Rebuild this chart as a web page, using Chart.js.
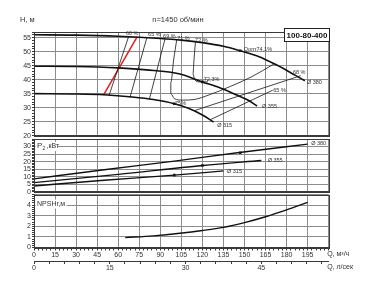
<!DOCTYPE html>
<html><head><meta charset="utf-8">
<script src="https://cdn.jsdelivr.net/npm/chart.js@4/dist/chart.umd.min.js"></script>
<style>
html,body{margin:0;padding:0;background:#fff;width:369px;height:284px;overflow:hidden;position:relative}
canvas{position:absolute;left:0}
</style></head><body>
<canvas id="c1" width="369" height="142" style="top:0px"></canvas>
<canvas id="c2" width="369" height="63" style="top:135px"></canvas>
<canvas id="c3" width="369" height="94" style="top:190px"></canvas>
<script>
// ---------- data ----------
const qH380 = [0, 30, 60, 90, 105, 120, 135, 147, 160, 173, 186, 193];
const h380  = [56, 55.9, 55.5, 54.7, 54.1, 53.2, 51.9, 50.3, 48.3, 45.2, 41.6, 39.6];
const qH355 = [0, 30, 60, 80, 104, 120, 132, 144, 152, 159];
const h355  = [44.8, 44.7, 44.2, 43.5, 42.0, 39.2, 37.2, 34.6, 32.8, 30.6];
const qH315 = [0, 30, 50, 70, 85, 100, 110, 120, 128];
const h315  = [35, 34.9, 34.6, 33.8, 32.9, 31.4, 29.8, 27.4, 24.9];

const qBep = [147, 120, 100];
const hBep = [50.3, 39.2, 31.4];
const pBep = [25.9, 17.4, 11.0];

const effRed = [[73.5, 55.3], [49.5, 34.5]];
const eff60  = [[67.5, 55.5], [53.5, 34.4]];
const eff65  = [[80.5, 55.1], [68.4, 33.7]];
const eff69  = [[93.4, 54.6], [82.2, 33.0]];
const eff71  = [[101.7, 54.2], [99.5, 47], [97.5, 39], [97.5, 35], [100, 33.2], [106, 32.7], [114, 32.9], [125, 34.6], [140, 37.6], [155, 41], [171, 45.6]];
const eff72  = [[115, 53.3], [114, 47], [113.3, 42], [114.5, 40], [118, 39.2], [124, 39.2]];
const eff68  = [[114, 28.9], [190, 41.4]];
const eff65r = [[126, 25.8], [170, 36.2]];

const qP380 = [0, 50, 100, 145, 195];
const p380  = [8.5, 14.6, 20.3, 25.9, 31.6];
const qP355 = [0, 60, 120, 162];
const p355  = [6.0, 11.5, 17.4, 20.7];
const qP315 = [0, 50, 100, 135];
const p315  = [3.8, 7.6, 11.0, 13.8];

const qN = [65, 85, 104, 120, 135, 150, 165, 180, 195];
const npsh = [0.93, 1.1, 1.34, 1.6, 1.9, 2.35, 2.9, 3.55, 4.25];

const xTickLabels = [0, 15, 30, 45, 60, 75, 90, 105, 120, 135, 150, 165, 180, 195];
const x2TickLabels = [0, 15, 30, 45];

// ---------- helpers ----------
const FONT = '"Liberation Sans", Arial, sans-serif';
const GRID = '#8c8c8c';
const AX = '#3a3a3a';
const TXT = '#333';
const pts = (xs, ys) => xs.map((x, i) => ({x, y: ys[i]}));
const pairs = a => a.map(p => ({x: p[0], y: p[1]}));
const isMult = (v, m) => Math.abs(v / m - Math.round(v / m)) < 1e-6;
const noPad = s => { s.paddingTop = 0; s.paddingBottom = 0; s.paddingLeft = 0; s.paddingRight = 0; };

function line(data, w, color, extra) {
  return Object.assign({data, showLine: true, borderColor: color || '#111', borderWidth: w,
    pointRadius: 0, pointHoverRadius: 0, fill: false, cubicInterpolationMode: 'monotone'}, extra || {});
}
function marks(data) {
  return {data, showLine: false, pointRadius: 1.8, pointHoverRadius: 0, pointStyle: 'rect',
    backgroundColor: '#222', borderColor: '#222', borderWidth: 0};
}
function yAxis(min, max, step, major) {
  return {
    min, max,
    ticks: {stepSize: step, includeBounds: false, autoSkip: false, padding: 1,
      color: TXT, font: {family: FONT, size: 7},
      callback: v => (isMult(v, major) && v < max - 1e-6) ? String(Math.round(v)) : ''},
    grid: {color: c => (c.tick && isMult(c.tick.value, major)) ? GRID : 'rgba(0,0,0,0)',
      tickColor: AX, tickLength: 2, lineWidth: 1},
    border: {color: AX},
    afterFit: s => { s.width = 34; noPad(s); }
  };
}
function xHidden() {
  return {type: 'linear', min: 0, max: 210,
    ticks: {display: false, stepSize: 15, includeBounds: false},
    grid: {color: GRID, drawTicks: false},
    border: {color: AX},
    afterFit: s => { s.height = 0; noPad(s); }};
}
const frame = {
  id: 'frame',
  afterDraw(chart) {
    const a = chart.chartArea, c = chart.ctx;
    c.save(); c.strokeStyle = AX; c.lineWidth = 1;
    c.strokeRect(Math.round(a.left) + 0.5, Math.round(a.top) + 0.5,
      Math.round(a.right - a.left), Math.round(a.bottom - a.top));
    c.restore();
  }
};
function txt(c, s, x, y, size, opts) {
  opts = opts || {};
  c.font = (opts.bold ? 'bold ' : '') + size + 'px ' + FONT;
  c.fillStyle = opts.color || TXT;
  c.textAlign = opts.align || 'left';
  c.textBaseline = 'middle';
  c.fillText(s, x, y);
}
function base(extraPlugins, scales, datasets, pad) {
  return {
    type: 'scatter',
    data: {datasets},
    options: {
      responsive: false, animation: false, devicePixelRatio: 1,
      layout: {padding: pad, autoPadding: false},
      events: [],
      plugins: {legend: {display: false}, tooltip: {enabled: false}},
      scales
    },
    plugins: [frame].concat(extraPlugins)
  };
}

// ---------- chart 1 : H ----------
const hLabels = {
  id: 'hLabels',
  afterDraw(chart) {
    const c = chart.ctx, X = v => chart.scales.x.getPixelForValue(v), Y = v => chart.scales.y.getPixelForValue(v);
    c.save();
    txt(c, 'H, м', 20, 20, 7.5);
    txt(c, 'n=1450 об/мин', 178, 20, 7.5, {align: 'center'});
    const bx = 284, by = 28, bw = 45, bh = 13;
    c.fillStyle = '#fff'; c.fillRect(bx, by, bw, bh);
    c.strokeStyle = '#222'; c.lineWidth = 1; c.strokeRect(bx + 0.5, by + 0.5, bw, bh);
    txt(c, '100-80-400', bx + bw / 2 + 0.5, by + bh / 2 + 1, 8, {bold: true, align: 'center', color: '#111'});
    const s = 5.5;
    txt(c, '60 %', X(65.5), Y(56.6), s);
    txt(c, '65 %', X(81.3), Y(56.0), s);
    txt(c, '69 %', X(92), Y(55.3), s);
    txt(c, '71 %', X(102), Y(54.8), s);
    txt(c, '72 %', X(114.8), Y(54.0), s);
    txt(c, '72,3%', X(121), Y(40.2), s);
    txt(c, 'Qопт', X(149.5), Y(50.6), s);
    txt(c, '74,1%', X(158.5), Y(50.6), s);
    txt(c, '68 %', X(184.5), Y(42.5), s);
    txt(c, '65 %', X(170.5), Y(36.2), s);
    txt(c, '75%', X(100.5), Y(31.6), s);
    txt(c, 'Ø 380', X(194.5), Y(39.0), s);
    txt(c, 'Ø 355', X(162.5), Y(30.5), s);
    txt(c, 'Ø 315', X(130.5), Y(23.5), s);
    c.restore();
  }
};
new Chart(document.getElementById('c1'), base([hLabels], {
  x: xHidden(),
  y: yAxis(20, 57, 1, 5)
}, [
  line(pts(qH380, h380), 1.6),
  line(pts(qH355, h355), 1.6),
  line(pts(qH315, h315), 1.6),
  line(pairs(eff60), 0.8),
  line(pairs(eff65), 0.8),
  line(pairs(eff69), 0.8),
  line(pairs(eff71), 0.8),
  line(pairs(eff72), 0.8),
  line(pairs(eff68), 0.8),
  line(pairs(eff65r), 0.8),
  line(pairs(effRed), 1.5, '#e0201c'),
  marks(pts(qBep, hBep))
], {top: 32, bottom: 6.3, left: 0, right: 40.3}));

// ---------- chart 2 : P ----------
const pLabels = {
  id: 'pLabels',
  afterDraw(chart) {
    const c = chart.ctx, a = chart.chartArea, X = v => chart.scales.x.getPixelForValue(v), Y = v => chart.scales.y.getPixelForValue(v);
    c.save();
    c.fillStyle = '#fff'; c.fillRect(a.left + 1.5, Y(30) - 4.5, 22, 9);
    txt(c, 'P', a.left + 3, Y(30.3), 8);
    txt(c, '2', a.left + 8.6, Y(28.6), 5);
    txt(c, ' ,кВт', a.left + 10.5, Y(30.3), 7);
    txt(c, 'Ø 380', X(197.5), Y(32.0), 5.5);
    txt(c, 'Ø 355', X(166.5), Y(21.0), 5.5);
    txt(c, 'Ø 315', X(137.5), Y(13.6), 5.5);
    c.restore();
  }
};
new Chart(document.getElementById('c2'), base([pLabels], {
  x: xHidden(),
  y: yAxis(0, 35, 1, 5)
}, [
  line(pts(qP380, p380), 1.4),
  line(pts(qP355, p355), 1.4),
  line(pts(qP315, p315), 1.4),
  marks(pts(qBep, pBep))
], {top: 4, bottom: 6.3, left: 0, right: 40.3}));

// ---------- chart 3 : NPSH ----------
const nLabels = {
  id: 'nLabels',
  afterDraw(chart) {
    const c = chart.ctx, a = chart.chartArea, Y = v => chart.scales.y.getPixelForValue(v);
    const x1 = chart.scales.x, x2 = chart.scales.x2;
    c.save();
    c.fillStyle = '#fff'; c.fillRect(a.left + 1.5, Y(4.1) - 4.5, 31, 9);
    txt(c, 'NPSHr,м', a.left + 3, Y(4.1), 7);
    txt(c, 'Q, м³/ч', a.right - 1.5, x1.top + 6.5, 7);
    txt(c, 'Q, л/сек', a.right - 1.5, x2.top + 6.5, 7);
    c.restore();
  }
};
new Chart(document.getElementById('c3'), base([nLabels], {
  x: {type: 'linear', position: 'bottom', min: 0, max: 210,
    ticks: {stepSize: 3, includeBounds: false, autoSkip: false, maxRotation: 0, padding: 0,
      color: TXT, font: {family: FONT, size: 7},
      callback: v => xTickLabels.includes(v) ? String(v) : ''},
    grid: {color: c => (c.tick && isMult(c.tick.value, 15)) ? GRID : 'rgba(0,0,0,0)',
      tickColor: AX, tickLength: 3},
    border: {color: AX},
    afterFit: s => { s.height = 13.5; noPad(s); }},
  x2: {type: 'linear', position: 'bottom', min: 0, max: 210 / 3.6,
    ticks: {stepSize: 3, includeBounds: false, autoSkip: false, maxRotation: 0, padding: 0,
      color: TXT, font: {family: FONT, size: 7},
      callback: v => x2TickLabels.includes(v) ? String(v) : ''},
    grid: {drawOnChartArea: false, color: AX, tickLength: 3},
    border: {color: AX},
    afterFit: s => { s.height = 23; noPad(s); }},
  y: yAxis(0, 5, 0.2, 1)
}, [
  line(pts(qN, npsh), 1.4)
], {top: 4.5, bottom: 0, left: 0, right: 40.3}));
</script></body></html>
